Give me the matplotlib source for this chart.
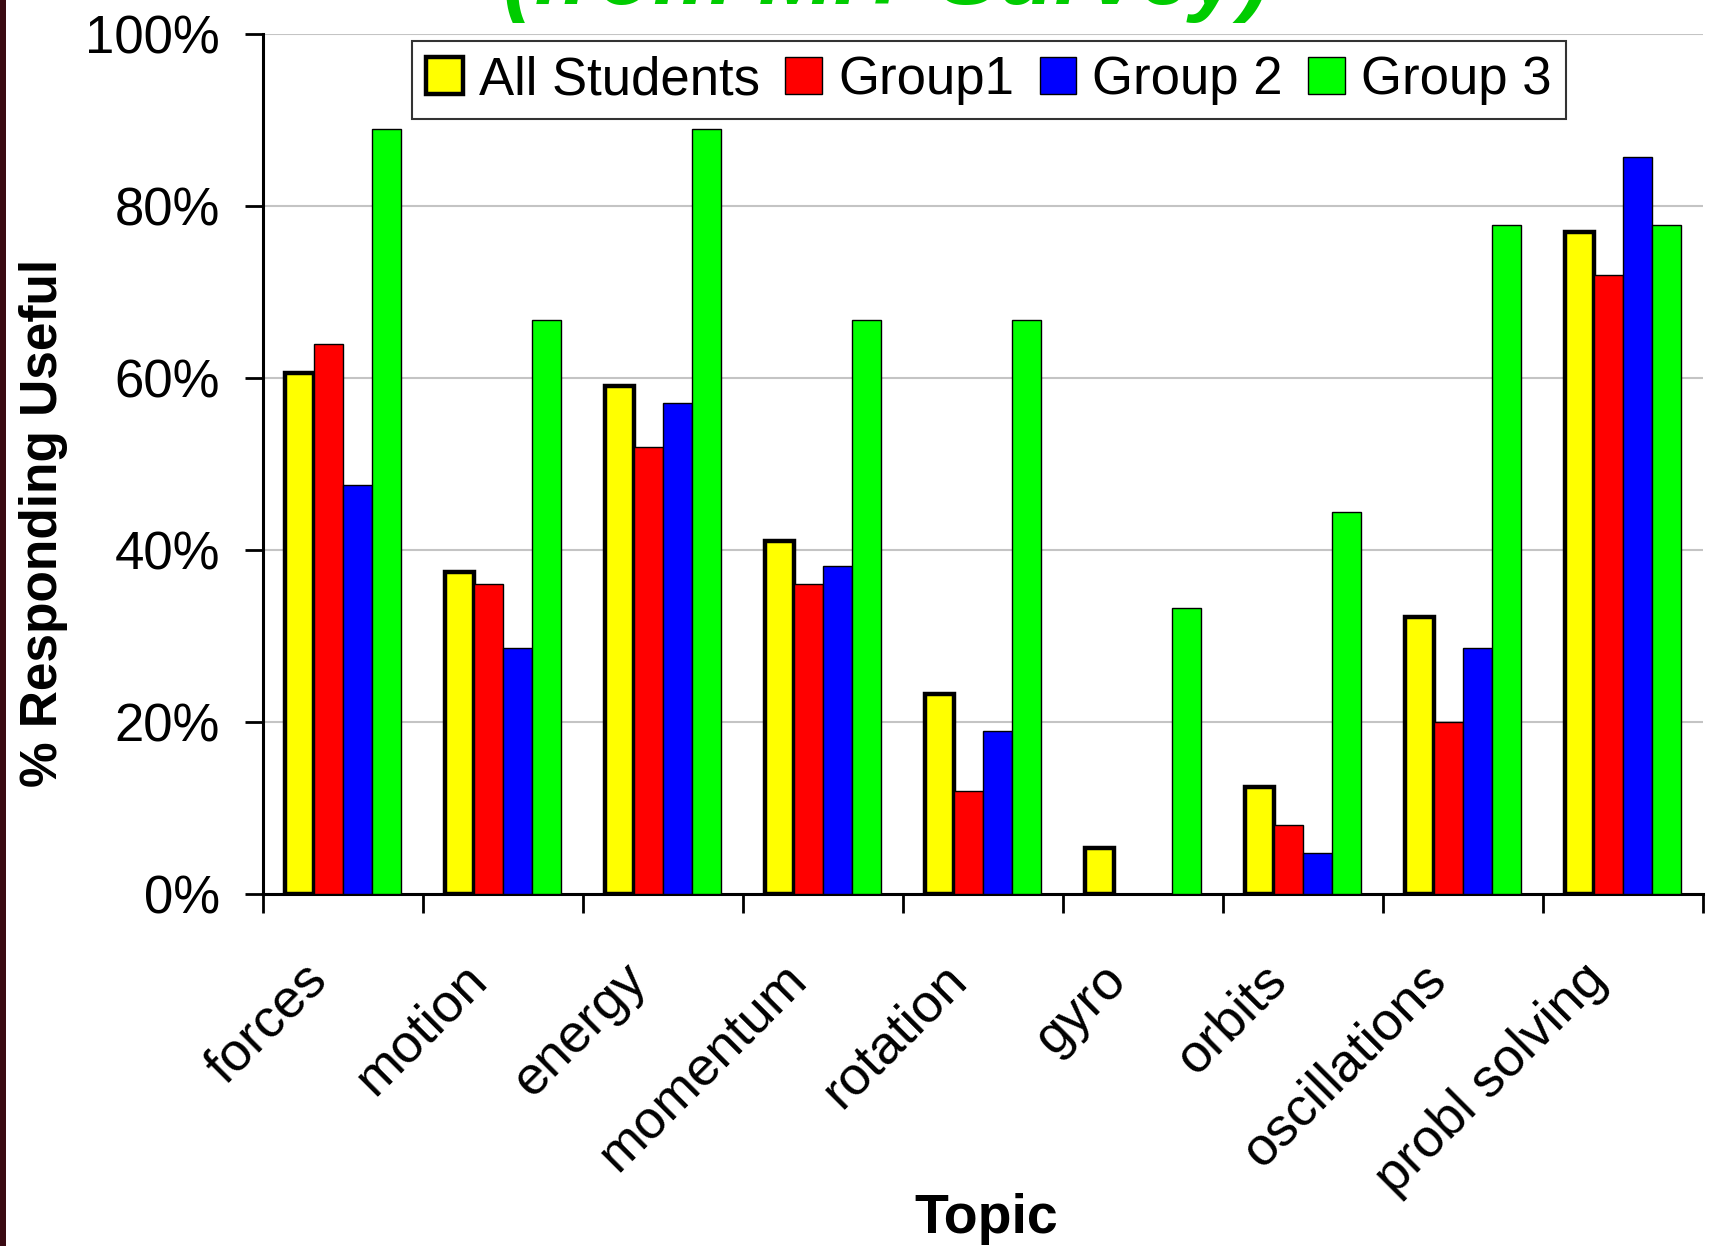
import numpy as np
import matplotlib
matplotlib.use("Agg")
import matplotlib.pyplot as plt
from matplotlib.patches import Rectangle
from matplotlib.ticker import FixedLocator, PercentFormatter
from matplotlib.transforms import ScaledTranslation

# 各专题认为"有用"的比例 (%)
topics = ["forces", "motion", "energy", "momentum", "rotation",
          "gyro", "orbits", "oscillations", "probl solving"]
all_students = [60.6, 37.5, 59.1, 41.0, 23.2, 5.3, 12.5, 32.2, 77.0]
group1 = [64.0, 36.0, 52.0, 36.0, 12.0, 0.0, 8.0, 20.0, 72.0]
group2 = [47.6, 28.6, 57.1, 38.1, 19.0, 0.0, 4.8, 28.6, 85.7]
group3 = [88.9, 66.7, 88.9, 66.7, 66.7, 33.3, 44.4, 77.8, 77.8]

series_names = ["All Students", "Group1", "Group 2", "Group 3"]
series_colors = ["#ffff00", "#ff0000", "#0000ff", "#00ff00"]
series_edge_lw = [3.2, 1.0, 1.0, 1.0]

plt.rcParams["font.family"] = ["Liberation Sans", "DejaVu Sans"]

fig = plt.figure(figsize=(17.1, 12.46), dpi=100)
ax = fig.add_axes([0.1538, 0.2825, 0.8421, 0.6902])

# 左侧深色边条
fig.patches.append(Rectangle((0, 0), 6 / 1710, 1, transform=fig.transFigure,
                             facecolor="#3a0a12", edgecolor="none", zorder=0))

x = np.arange(len(topics))
bar_w = 0.18
offsets = [-0.27, -0.09, 0.09, 0.27]
handles = []
for vals, name, col, lw, off in zip([all_students, group1, group2, group3],
                                    series_names, series_colors, series_edge_lw, offsets):
    b = ax.bar(x + off, vals, width=bar_w, color=col, edgecolor="black",
               linewidth=lw, label=name, zorder=3)
    handles.append(b)

ax.set_xlim(-0.5, len(topics) - 0.5)
ax.set_ylim(0, 100)

# 网格线
ax.yaxis.set_major_locator(FixedLocator([0, 20, 40, 60, 80, 100]))
ax.yaxis.set_major_formatter(PercentFormatter(decimals=0))
ax.grid(axis="y", color="#c4c4c4", linewidth=1.5, zorder=0)
ax.set_axisbelow(True)

for side in ["top", "right"]:
    ax.spines[side].set_visible(False)
ax.spines["left"].set_linewidth(2.2)
ax.spines["bottom"].set_linewidth(2.2)

ax.tick_params(axis="y", direction="out", length=13, width=2.0,
               labelsize=38, pad=18)

# x 轴：分组边界处画刻度，标签放在组中心
ax.set_xticks(x)
ax.set_xticklabels(topics, rotation=45, rotation_mode="anchor",
                   ha="right", va="center", fontsize=39)
ax.tick_params(axis="x", which="major", length=0, pad=56)
shift = ScaledTranslation(-24 / 100, 0, fig.dpi_scale_trans)
for lab in ax.get_xticklabels():
    lab.set_transform(lab.get_transform() + shift)
ax.xaxis.set_minor_locator(FixedLocator(np.arange(-0.5, len(topics), 1.0)))
ax.tick_params(axis="x", which="minor", direction="out", length=14, width=2.0)

leg = ax.legend(handles=handles, labels=series_names, loc="upper left",
                bbox_to_anchor=(0.1035, 0.992), ncol=4, fontsize=38,
                frameon=True, fancybox=False, shadow=False,
                handlelength=0.7, handleheight=0.7, handletextpad=0.3,
                columnspacing=0.48, borderpad=0.27, borderaxespad=0.0)
leg.get_frame().set_edgecolor("black")
leg.get_frame().set_linewidth(1.5)
leg.set_zorder(5)

fig.text(0.0257, 0.5803, "% Responding Useful", rotation=90, ha="center",
         va="center", fontsize=37, fontweight="bold")
fig.text(0.577, 0.0104, "Topic", ha="center", va="baseline",
         fontsize=40, fontweight="bold")

# 标题，上半部分超出画布
fig.text(0.5185, 0.9968, "(from MIT Survey)", ha="center", va="baseline",
         fontsize=65, fontweight="bold", fontstyle="italic", color="#00cc00")

fig.savefig("out.png", dpi=100)
